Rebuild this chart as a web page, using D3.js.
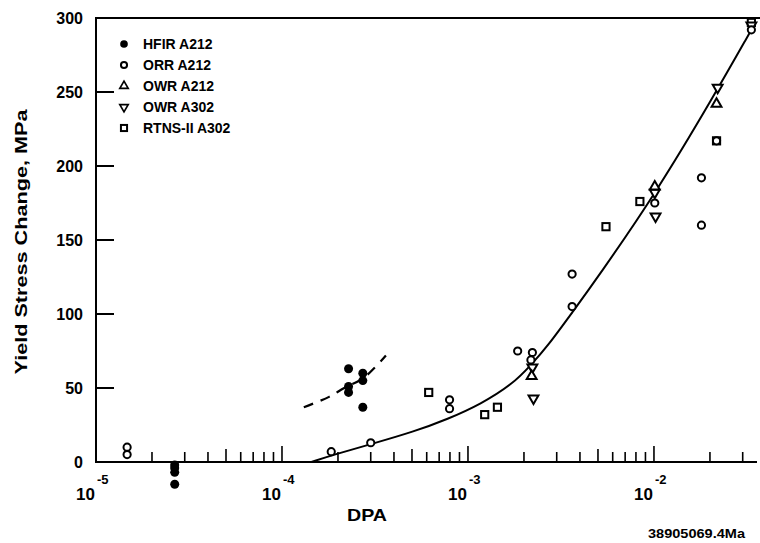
<!DOCTYPE html>
<html><head><meta charset="utf-8">
<script src="https://cdn.jsdelivr.net/npm/d3@7"></script>
<style>body{margin:0;background:#fff}svg{display:block}text{font-family:"Liberation Sans",Arial,sans-serif;font-weight:bold;fill:#000}</style>
</head><body>
<svg id="c" width="760" height="543"></svg>
<script>
// ---- data ----
const yTicks = [0, 50, 100, 150, 200, 250, 300];
const xDecades = [-5, -4, -3, -2];
const seriesNames = ["HFIR A212", "ORR A212", "OWR A212", "OWR A302", "RTNS-II A302"];
const hfirA212 = [[2.65e-5,-2],[2.65e-5,-4],[2.65e-5,-7],[2.65e-5,-15],[2.28e-4,63],[2.28e-4,51],[2.28e-4,47],[2.72e-4,60],[2.72e-4,55],[2.72e-4,37]];
const orrA212 = [[1.47e-5,10],[1.47e-5,5],[1.84e-4,7],[3.0e-4,13],[7.96e-4,42],[7.96e-4,36],[1.85e-3,75],[2.22e-3,74],[2.18e-3,69],[3.63e-3,127],[3.63e-3,105],[1.01e-2,175],[1.80e-2,192],[1.80e-2,160],[2.17e-2,217],[3.34e-2,292]];
const owrA212 = [[2.2e-3,58],[1.01e-2,186],[2.17e-2,242]];
const owrA302 = [[2.22e-3,64],[2.25e-3,43],[1.01e-2,182],[1.02e-2,166],[2.2e-2,253],[3.34e-2,295]];
const rtnsA302 = [[6.15e-4,47],[1.23e-3,32],[1.44e-3,37],[5.52e-3,159],[8.4e-3,176],[2.17e-2,217],[3.34e-2,297]];
const fitCurve = [[1.44e-4,0],[1.9e-4,5],[3.0e-4,12],[5.12e-4,20.5],[7.78e-4,29],[1.17e-3,39],[1.75e-3,53],[2.16e-3,65],[2.67e-3,78],[3.68e-3,102],[4.94e-3,124],[1.04e-2,183],[2.07e-2,246],[3.34e-2,292]];
const hfirCurve = [[1.31e-4,37],[1.79e-4,44],[2.16e-4,50],[2.76e-4,57],[3.62e-4,72]];

// ---- layout ----
const svg = d3.select("#c");
const x = d3.scaleLog().domain([1e-5, Math.pow(10,-1.446)]).range([96, 757]);
const y = d3.scaleLinear().domain([0, 300]).range([462, 18]);
const X0 = 96, X1 = 757;

svg.append("line").attr("x1",X0).attr("x2",X0).attr("y1",y(300)).attr("y2",y(0)).attr("stroke","#000").attr("stroke-width",2);
svg.append("line").attr("x1",X0-1).attr("x2",X1).attr("y1",y(0)).attr("y2",y(0)).attr("stroke","#000").attr("stroke-width",2);
svg.append("line").attr("x1",X0-1).attr("x2",X1+3).attr("y1",y(300)).attr("y2",y(300)).attr("stroke","#000").attr("stroke-width",2);

yTicks.forEach(v => {
  if (v > 0 && v < 300) svg.append("line").attr("x1",X0).attr("x2",X0+18).attr("y1",y(v)).attr("y2",y(v)).attr("stroke","#000").attr("stroke-width",2);
  svg.append("text").attr("x",83).attr("y",y(v)+6).attr("text-anchor","end").attr("font-size",16).text(v);
});

const xt = [];
for (let e = -5; e <= -2; e++) for (let m = 1; m <= 9; m++) { const v = m*Math.pow(10,e); if (v <= x.domain()[1]) xt.push([v,m]); }
xt.forEach(([v,m]) => {
  if (v === 1e-5) return;
  const h = m === 1 ? 16 : (m === 5 ? 13 : 10);
  svg.append("line").attr("x1",x(v)).attr("x2",x(v)).attr("y1",y(0)).attr("y2",y(0)-h).attr("stroke","#000").attr("stroke-width",1.6);
});
xDecades.forEach(e => {
  const px = x(Math.pow(10,e));
  svg.append("text").attr("x",px-1).attr("y",500).attr("text-anchor","end").attr("font-size",17).text("10");
  svg.append("text").attr("x",px+1).attr("y",484).attr("text-anchor","start").attr("font-size",13).text(String(e));
});

svg.append("text").attr("x",367).attr("y",521).attr("text-anchor","middle").attr("font-size",17).attr("textLength",40).attr("lengthAdjust","spacingAndGlyphs").text("DPA");
svg.append("text").attr("transform","translate(27,242) rotate(-90)").attr("text-anchor","middle").attr("font-size",17).attr("textLength",265).attr("lengthAdjust","spacingAndGlyphs").text("Yield Stress Change, MPa");
svg.append("text").attr("x",648).attr("y",538).attr("font-size",12).attr("textLength",97).attr("lengthAdjust","spacingAndGlyphs").text("38905069.4Ma");

const line = d3.line().x(d => x(d[0])).y(d => y(d[1])).curve(d3.curveBasis);
svg.append("path").attr("d",line(fitCurve)).attr("fill","none").attr("stroke","#000").attr("stroke-width",2);
svg.append("path").attr("d",d3.line().x(d => x(d[0])).y(d => y(d[1])).curve(d3.curveCatmullRom)(hfirCurve)).attr("fill","none").attr("stroke","#000").attr("stroke-width",2.2).attr("stroke-dasharray","10,8");

const triUp = d3.symbol().type(d3.symbolTriangle).size(42)();
function drawMarker(g, px, py, kind, s) {
  if (kind === 0) g.append("circle").attr("cx",px).attr("cy",py).attr("r",4.5*s).attr("fill","#000");
  else if (kind === 1) g.append("circle").attr("cx",px).attr("cy",py).attr("r",3.6*s).attr("fill","#fff").attr("stroke","#000").attr("stroke-width",2);
  else if (kind === 2) g.append("path").attr("d",triUp).attr("transform",`translate(${px},${py}) scale(${s})`).attr("fill","#fff").attr("stroke","#000").attr("stroke-width",2);
  else if (kind === 3) g.append("path").attr("d",triUp).attr("transform",`translate(${px},${py}) scale(${s}) rotate(180)`).attr("fill","#fff").attr("stroke","#000").attr("stroke-width",2);
  else g.append("rect").attr("x",px-3.6*s).attr("y",py-3.6*s).attr("width",7.2*s).attr("height",7.2*s).attr("fill","#fff").attr("stroke","#000").attr("stroke-width",2);
}
const gm = svg.append("g");
[[rtnsA302,4],[owrA302,3],[owrA212,2],[orrA212,1],[hfirA212,0]].forEach(([d,k]) => d.forEach(p => drawMarker(gm, x(p[0]), y(p[1]), k, 1)));

seriesNames.forEach((n,i) => {
  const ly = 44 + 21*i;
  drawMarker(svg, 124, ly, i, 0.85);
  svg.append("text").attr("x",143).attr("y",ly+5).attr("font-size",14).text(n);
});
</script>
</body></html>
